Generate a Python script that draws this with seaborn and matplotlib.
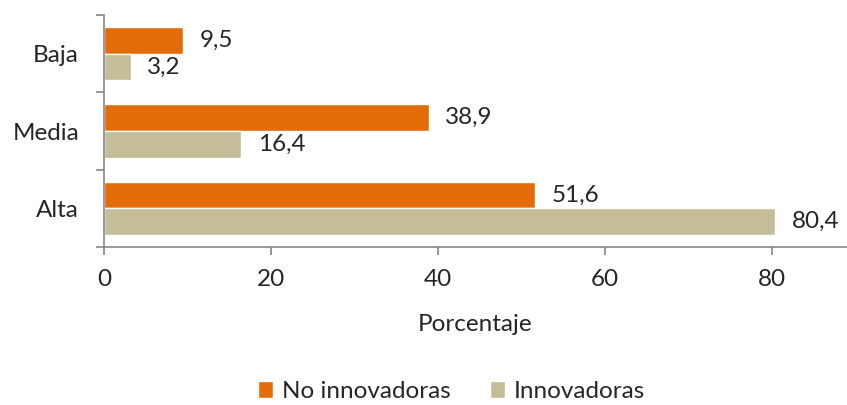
import pandas as pd
import matplotlib.pyplot as plt
import seaborn as sns

# datos
categorias = ['Baja', 'Media', 'Alta']
no_innovadoras = [9.5, 38.9, 51.6]
innovadoras = [3.2, 16.4, 80.4]
series = ['No innovadoras', 'Innovadoras']
colores = ['#E36C0A', '#C4BD97']

df = pd.DataFrame({
    'cat': categorias * 2,
    'serie': [series[0]] * 3 + [series[1]] * 3,
    'valor': no_innovadoras + innovadoras,
})

sns.set_style('white')
plt.rcParams['font.family'] = ['Lato', 'DejaVu Sans']
fs = 17.5
plt.rcParams['font.size'] = fs

fig = plt.figure(figsize=(8.47, 4.05), dpi=100)
ax = fig.add_axes([0.1228, 0.39, 0.8772, 0.573])

sns.barplot(data=df, y='cat', x='valor', hue='serie', order=categorias,
            hue_order=series, palette=colores, width=0.69, orient='h',
            saturation=1, ax=ax, legend=True)

for cont in ax.containers:
    ax.bar_label(cont, labels=[f'{v:.1f}'.replace('.', ',') for v in cont.datavalues],
                 padding=12, fontsize=fs)

ax.set_xlim(0, 89)
ax.set_ylim(2.5, -0.5)
ax.set_xticks([0, 20, 40, 60, 80])
ax.set_xlabel('Porcentaje', fontsize=fs, labelpad=17)
ax.set_ylabel('')

gris = '#868686'
for s in ['top', 'right']:
    ax.spines[s].set_visible(False)
for s in ['left', 'bottom']:
    ax.spines[s].set_color(gris)
    ax.spines[s].set_linewidth(1.2)

ax.set_yticks([-0.5, 0.5, 1.5, 2.5], minor=True)
ax.tick_params(axis='y', which='major', length=0, pad=18, labelsize=fs)
ax.tick_params(axis='y', which='minor', length=6, width=1.2, color=gris, direction='out', left=True)
ax.tick_params(axis='x', length=6, width=1.2, color=gris, direction='out', bottom=True, pad=10, labelsize=fs)

handles, labels = ax.get_legend_handles_labels()
ax.get_legend().remove()
fig.legend(handles, labels, loc='center', bbox_to_anchor=(0.533, 0.033), ncol=2,
           frameon=False, fontsize=fs, handlelength=0.65, handleheight=0.65,
           handletextpad=0.35, columnspacing=1.6)

plt.savefig('out.png', dpi=100)
plt.close()
